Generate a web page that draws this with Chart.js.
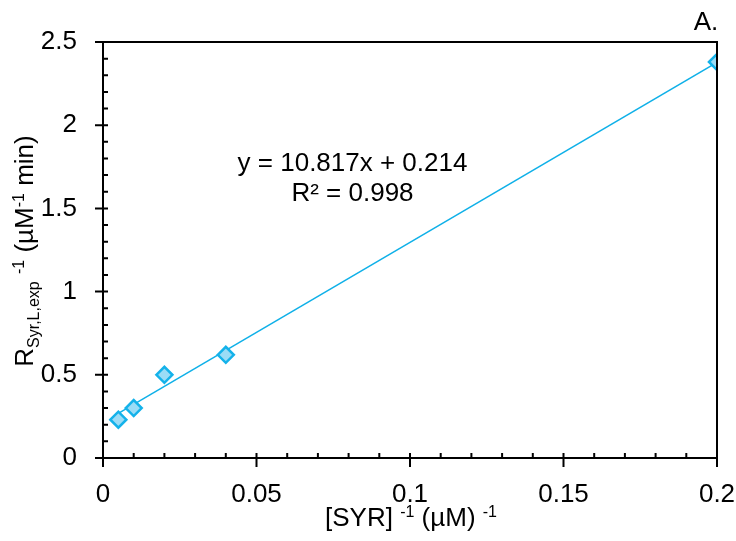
<!DOCTYPE html>
<html>
<head>
<meta charset="utf-8">
<script src="https://cdn.jsdelivr.net/npm/chart.js@4"></script>
<style>
  html, body { margin: 0; padding: 0; background: #fff; }
  #wrap { width: 736px; height: 541px; }
</style>
</head>
<body>
<div id="wrap"><canvas id="lwbChart" width="736" height="541"></canvas></div>
<script>
// data
const invSyr = [0.005, 0.01, 0.02, 0.04, 0.2];
const invRate = [0.23, 0.30, 0.50, 0.62, 2.38];
const slope = 10.817;
const intercept = 0.214;
const xTicks = [0, 0.05, 0.1, 0.15, 0.2];
const yTicks = [0, 0.5, 1, 1.5, 2, 2.5];

const fitLine = [invSyr[0], invSyr[invSyr.length - 1]].map(x => ({ x: x, y: slope * x + intercept }));
const points = invSyr.map((x, i) => ({ x: x, y: invRate[i] }));

const FONT = '"Liberation Sans", Arial, sans-serif';
const FS = 26;

// text pieces with sub/superscripts, drawn left to right on one baseline
function drawRich(ctx, parts, x, y) {
  let cx = x;
  parts.forEach(p => {
    const s = p.k ? 16 : FS;
    ctx.font = s + 'px ' + FONT;
    let dy = 0;
    if (p.k === 'sup') dy = -9;
    if (p.k === 'sub') dy = 6;
    ctx.fillText(p.t, cx, y + dy);
    cx += ctx.measureText(p.t).width;
  });
  return cx - x;
}
function richWidth(ctx, parts) {
  let w = 0;
  parts.forEach(p => {
    ctx.font = (p.k ? 16 : FS) + 'px ' + FONT;
    w += ctx.measureText(p.t).width;
  });
  return w;
}

const decorations = {
  id: 'decorations',
  afterDraw(chart) {
    const ctx = chart.ctx;
    const xs = chart.scales.x, ys = chart.scales.y;
    const a = chart.chartArea;
    ctx.save();
    ctx.strokeStyle = '#000';
    ctx.lineWidth = 2;
    // frame top & right
    ctx.beginPath();
    ctx.moveTo(a.left, a.top); ctx.lineTo(a.right, a.top); ctx.lineTo(a.right, a.bottom);
    ctx.stroke();
    // x ticks: minor inside, major crossing
    ctx.beginPath();
    for (let i = 0; i <= 20; i++) {
      const px = xs.getPixelForValue(i * 0.01);
      const major = i % 5 === 0;
      ctx.moveTo(px, a.bottom + (major ? 9 : 0));
      ctx.lineTo(px, a.bottom - 5);
    }
    // y ticks
    for (let i = 0; i <= 25; i++) {
      const py = ys.getPixelForValue(i * 0.1);
      const major = i % 5 === 0;
      ctx.moveTo(a.left - (major ? 8 : 0), py);
      ctx.lineTo(a.left + 5, py);
    }
    ctx.stroke();

    ctx.fillStyle = '#000';
    ctx.textBaseline = 'alphabetic';
    ctx.font = FS + 'px ' + FONT;
    ctx.textAlign = 'center';
    ctx.fillText('y = 10.817x + 0.214', 352.5, 171);
    ctx.fillText('R² = 0.998', 352.5, 201);
    ctx.fillText('A.', 706, 30);

    // x title
    ctx.textAlign = 'left';
    const xParts = [{ t: '[SYR] ' }, { t: '-1', k: 'sup' }, { t: ' (µM) ' }, { t: '-1', k: 'sup' }];
    const xw = richWidth(ctx, xParts);
    drawRich(ctx, xParts, 411 - xw / 2, 526);

    // y title
    const yParts = [{ t: 'R' }, { t: 'Syr,L,exp', k: 'sub' }, { t: ' ' }, { t: '-1', k: 'sup' }, { t: ' (µM' }, { t: '-1', k: 'sup' }, { t: ' min)' }];
    const yw = richWidth(ctx, yParts);
    ctx.translate(33, 251);
    ctx.rotate(-Math.PI / 2);
    drawRich(ctx, yParts, -yw / 2, 0);
    ctx.restore();
  }
};

const ctx = document.getElementById('lwbChart').getContext('2d');
new Chart(ctx, {
  type: 'scatter',
  data: {
    datasets: [
      {
        data: fitLine,
        showLine: true,
        borderColor: '#0fb0e8',
        borderWidth: 1.5,
        pointRadius: 0,
        order: 2
      },
      {
        data: points,
        pointStyle: 'rectRot',
        pointRadius: 8,
        backgroundColor: '#9bdcf6',
        borderColor: '#14b2ea',
        borderWidth: 2.5,
        order: 1
      }
    ]
  },
  options: {
    responsive: false,
    animation: false,
    layout: { padding: { top: 42, right: 19, left: 0, bottom: 0 } },
    plugins: { legend: { display: false }, tooltip: { enabled: false } },
    scales: {
      x: {
        type: 'linear',
        min: 0, max: 0.2,
        afterBuildTicks: s => { s.ticks = xTicks.map(v => ({ value: v })); },
        afterFit: s => { s.height = 83; s.paddingRight = 0; s.paddingLeft = 0; },
        grid: { display: false, drawTicks: false },
        border: { color: '#000', width: 2 },
        ticks: { color: '#000', padding: 21, maxRotation: 0, font: { family: FONT, size: FS }, callback: v => String(v) }
      },
      y: {
        type: 'linear',
        min: 0, max: 2.5,
        afterBuildTicks: s => { s.ticks = yTicks.map(v => ({ value: v })); },
        afterFit: s => { s.width = 103; s.paddingTop = 0; s.paddingBottom = 0; },
        grid: { display: false, drawTicks: false },
        border: { color: '#000', width: 2 },
        ticks: { color: '#000', padding: 26, font: { family: FONT, size: FS }, callback: v => String(v) }
      }
    }
  },
  plugins: [decorations]
});
</script>
</body>
</html>
